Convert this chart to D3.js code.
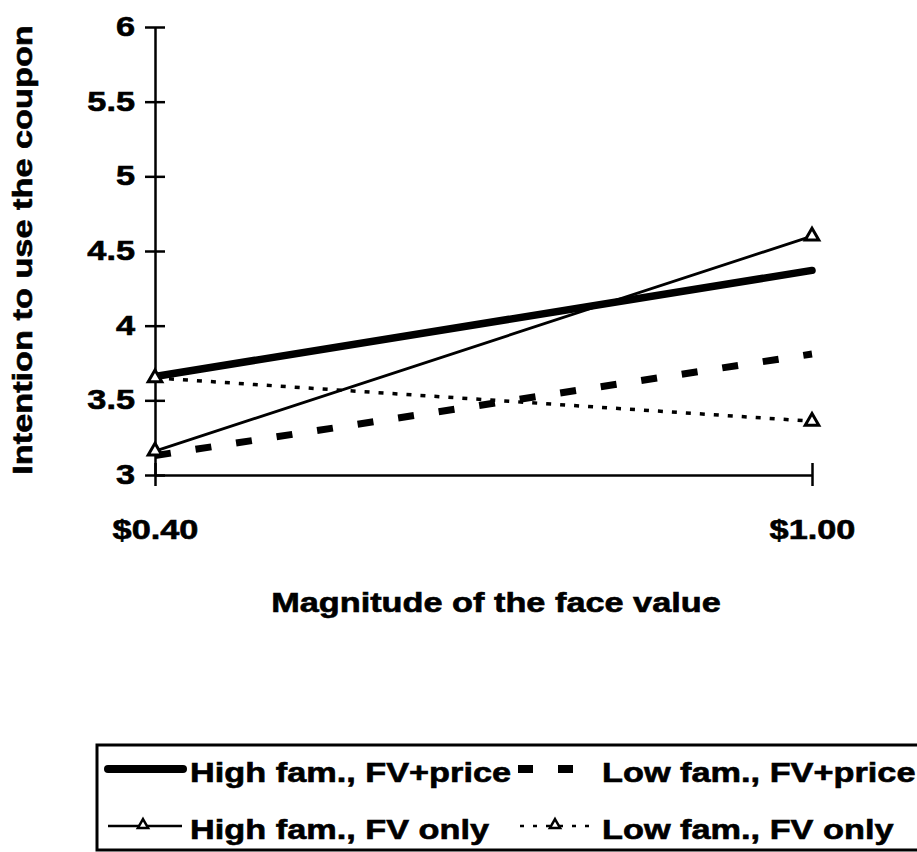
<!DOCTYPE html>
<meta charset="utf-8">
<style>
body { margin: 0; background: #fff; }
text { font-family: "Liberation Sans", Arial, sans-serif; font-weight: bold; fill: #000; stroke: #000; stroke-width: 0.6px; }
</style>
<svg width="917" height="852"></svg>
<script src="https://d3js.org/d3.v7.min.js"></script>
<script>

// face values on the x axis
var faceValues = ["$0.40", "$1.00"];
var yTicks = [3, 3.5, 4, 4.5, 5, 5.5, 6];

// series values, one per face value
var highFvPrice = [3.66, 4.37];
var lowFvPrice = [3.13, 3.81];
var highFvOnly = [3.16, 4.60];
var lowFvOnly = [3.65, 3.36];

var seriesNames = ["High fam., FV+price", "Low fam., FV+price", "High fam., FV only", "Low fam., FV only"];

var svg = d3.select("svg");
svg.append("rect").attr("width", 917).attr("height", 852).attr("fill", "#fff");

var stretch = 1.27;
// the scanned type is wider than Arial, so stretch every label sideways
function widen(sel) {
  sel.each(function() {
    var w = this.getComputedTextLength();
    d3.select(this).attr("textLength", w * stretch).attr("lengthAdjust", "spacingAndGlyphs");
  });
}

var x = d3.scalePoint().domain(faceValues).range([155, 812]);
var y = d3.scaleLinear().domain([3, 6]).range([475, 27]);

var styles = [
  {w: 7.5, dash: null, tri: false},
  {w: 7, dash: "16,25", tri: false},
  {w: 2.8, dash: null, tri: true},
  {w: 3.5, dash: "5,9", tri: true}
];
var allSeries = [highFvPrice, lowFvPrice, highFvOnly, lowFvOnly];

// axes
var yAxis = svg.append("g").attr("transform", "translate(155,0)")
  .call(d3.axisLeft(y).tickValues(yTicks).tickSize(0).tickPadding(20).tickFormat(d3.format("")));
yAxis.select(".domain").attr("stroke", "#000").attr("stroke-width", 2.5);
yAxis.selectAll("text").attr("font-size", 27).attr("font-family", "Liberation Sans").attr("font-weight", "bold").attr("fill", "#000");
yAxis.selectAll(".tick").append("line").attr("x1", -10).attr("x2", 10).attr("stroke", "#000").attr("stroke-width", 2.5);

var xAxis = svg.append("g").attr("transform", "translate(0,475)")
  .call(d3.axisBottom(x).tickSize(0).tickPadding(45));
xAxis.select(".domain").attr("stroke", "#000").attr("stroke-width", 2.5);
xAxis.selectAll("text").attr("font-size", 27).attr("font-family", "Liberation Sans").attr("font-weight", "bold").attr("fill", "#000");
xAxis.selectAll(".tick").append("line").attr("y1", -12).attr("y2", 11).attr("stroke", "#000").attr("stroke-width", 2.5);

svg.append("text").attr("x", 496).attr("y", 612).attr("text-anchor", "middle")
  .attr("font-size", 27).text("Magnitude of the face value");

svg.append("text").attr("transform", "translate(32,250) rotate(-90)").attr("text-anchor", "middle")
  .attr("font-size", 27).text("Intention to use the coupon");

// lines
var line = d3.line().x(function(d, i) { return x(faceValues[i]); }).y(function(d) { return y(d); });

allSeries.forEach(function(s, k) {
  var st = styles[k];
  svg.append("path").datum(s).attr("d", line).attr("fill", "none")
    .attr("stroke", "#000").attr("stroke-width", st.w)
    .attr("stroke-linecap", st.dash ? "butt" : "round")
    .attr("stroke-dasharray", st.dash);
  if (st.tri) {
    svg.selectAll(null).data(s).enter().append("path")
      .attr("d", d3.symbol().type(d3.symbolTriangle).size(80))
      .attr("transform", function(d, i) { return "translate(" + x(faceValues[i]) + "," + y(d) + ")"; })
      .attr("fill", "#fff").attr("stroke", "#000").attr("stroke-width", 3);
  }
});

// legend
var leg = svg.append("g");
leg.append("rect").attr("x", 97).attr("y", 745).attr("width", 840).attr("height", 105)
  .attr("fill", "none").attr("stroke", "#000").attr("stroke-width", 3);

var legPos = [
  {x1: 108, x2: 183, y: 769, tx: 190},
  {x1: 518, x2: 576, y: 769, tx: 602},
  {x1: 108, x2: 182, y: 826, tx: 190},
  {x1: 520, x2: 594, y: 826, tx: 602}
];
seriesNames.forEach(function(name, k) {
  var p = legPos[k], st = styles[k];
  if (k === 1) {
    leg.append("line").attr("x1", p.x1).attr("x2", p.x2).attr("y1", p.y).attr("y2", p.y)
      .attr("stroke", "#000").attr("stroke-width", 8).attr("stroke-dasharray", "15,25");
  } else {
    leg.append("line").attr("x1", p.x1).attr("x2", p.x2).attr("y1", p.y).attr("y2", p.y)
      .attr("stroke", "#000").attr("stroke-width", k === 0 ? 8 : 2.5)
      .attr("stroke-linecap", k === 0 ? "round" : "butt")
      .attr("stroke-dasharray", k === 3 ? "4,9" : null);
  }
  if (st.tri) {
    var cx = k === 2 ? 143 : 555;
    leg.append("path").attr("d", d3.symbol().type(d3.symbolTriangle).size(45))
      .attr("transform", "translate(" + cx + "," + (p.y - 1) + ")")
      .attr("fill", "#fff").attr("stroke", "#000").attr("stroke-width", 2.5);
  }
  leg.append("text").attr("x", p.tx).attr("y", p.y + 13).attr("font-size", 27).text(name);
});

widen(svg.selectAll("text"));

</script>
